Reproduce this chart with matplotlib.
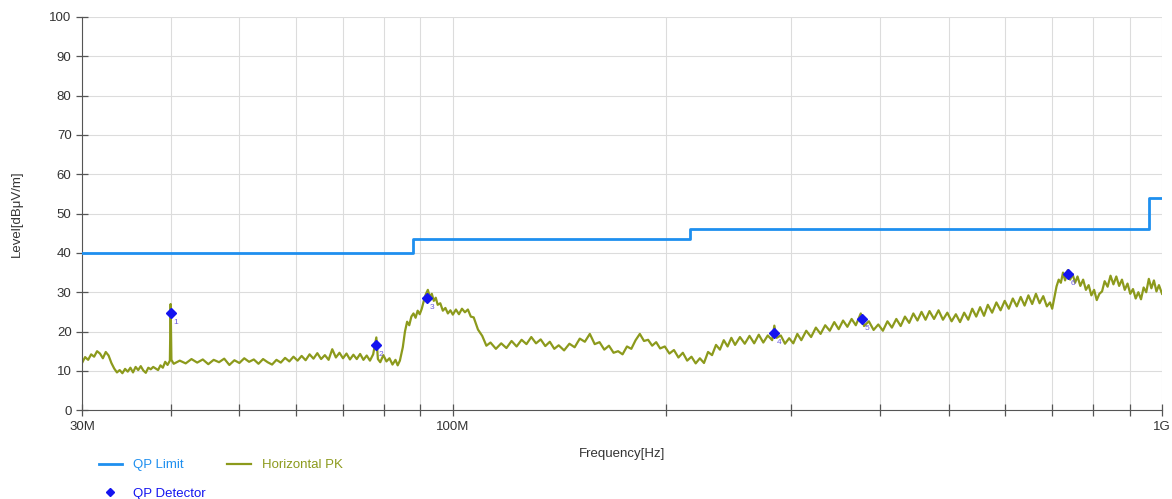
import matplotlib.pyplot as plt
from matplotlib.ticker import FixedLocator, NullFormatter, NullLocator
import numpy as np

plt.rcParams["font.family"] = ["Liberation Sans", "DejaVu Sans"]

# QP limit steps (MHz, dBuV/m)
limit_freq = [30, 88, 88, 216, 216, 960, 960, 1000]
limit_level = [40, 40, 43.5, 43.5, 46, 46, 54, 54]

# QP detector readings
qp_freq = [40.0, 77.9, 92.0, 284.0, 377.8, 737.7]
qp_level = [24.7, 16.5, 28.5, 19.6, 23.2, 34.6]
qp_ids = ["1", "2", "3", "4", "5", "6"]

# Horizontal PK trace (MHz, dBuV/m)
pk_freq = [
    30.0, 30.3, 30.6, 30.9, 31.2, 31.5, 31.8, 32.1, 32.4, 32.7, 33.0, 33.3, 33.6,
    33.9, 34.2, 34.5, 34.8, 35.1, 35.4, 35.7, 36.0, 36.3, 36.6, 36.9, 37.2, 37.5,
    37.8, 38.1, 38.4, 38.7, 39.0, 39.3, 39.6, 39.9, 40.0, 40.1,
    40.4, 41.2, 42.0, 42.8, 43.6, 44.4, 45.2, 46.0, 46.8, 47.6, 48.4, 49.2, 50.0,
    50.8, 51.6, 52.4, 53.2, 54.0, 54.8, 55.6, 56.4, 57.2, 58.0, 58.8, 59.6, 60.4,
    61.2, 62.0, 62.8, 63.6, 64.4, 65.2, 66.0, 66.8, 67.6, 68.4, 69.2, 70.0, 70.8,
    71.6, 72.4, 73.2, 74.0, 74.8, 75.6, 76.4, 77.2, 78.0, 78.4, 79.0, 79.8, 80.6,
    81.4, 82.2, 83.0, 83.6, 84.2,
    85.0, 85.6, 86.2, 86.8, 87.4, 88.0, 88.6, 89.2, 89.8, 90.4, 91.0, 91.6, 92.2,
    92.8, 93.4, 94.0, 94.6, 95.2, 96.0, 96.8, 97.6, 98.4, 99.2, 100, 101, 102,
    103, 104, 105, 106,
    107.0, 108.5, 110.0, 111.5, 113.0, 115.0, 117.0, 119.0, 121.0, 123.0, 125.0,
    127.0, 129.0, 131.0, 133.0, 135.0, 137.0, 139.0, 141.0, 143.5, 146.0, 148.5,
    151.0, 153.5, 156.0, 158.5, 161.0, 163.5, 166.0, 168.5, 171.0, 173.5, 176.0,
    178.5, 181.0, 183.5, 186.0, 188.5, 191.0, 193.5, 196.0, 199.0, 202.0, 205.0,
    208.0, 211.0, 214.0, 217.0, 220.0, 223.0, 226.0, 229.0, 232.0, 235.0, 238.0,
    241.0, 244.0, 247.0, 250.0, 254.0, 258.0, 262.0, 266.0, 270.0, 274.0, 278.0,
    282.0, 284.0, 286.0, 290.0, 294.0, 298.0, 302.0, 306.0, 310.0, 315.0, 320.0,
    325.0, 330.0, 335.0, 340.0, 345.0, 350.0, 355.0, 360.0, 365.0, 370.0, 376.0,
    380.0, 386.0, 392.0, 398.0, 404.0, 410.0, 416.0, 422.0, 428.0, 434.0, 440.0,
    446.0, 452.0, 458.0, 464.0, 470.0, 477.0, 484.0, 491.0, 498.0, 505.0, 512.0,
    519.0, 526.0, 533.0, 540.0, 547.0, 554.0, 561.0, 568.0, 576.0, 584.0, 592.0,
    600.0, 608.0, 616.0, 624.0, 632.0, 640.0, 648.0, 656.0, 664.0, 672.0, 680.0,
    688.0, 695.0, 700.0, 705.0, 710.0, 715.0, 720.0, 725.0, 730.0, 736.0, 742.0,
    748.0, 754.0, 760.0, 767.0, 774.0, 781.0, 788.0, 795.0, 802.0, 809.0, 816.0,
    823.0, 830.0, 838.0, 846.0, 854.0, 862.0, 870.0, 878.0, 886.0, 894.0, 902.0,
    910.0, 918.0, 926.0, 934.0, 942.0, 950.0, 958.0, 966.0, 974.0, 982.0, 990.0,
    1000.0,
]
pk_level = [
    12.0, 13.5, 12.8, 14.2, 13.6, 15.0, 14.4, 13.2, 14.8, 13.9, 12.0, 10.6, 9.6,
    10.2, 9.4, 10.5, 9.8, 10.8, 9.6, 11.0, 10.2, 11.2, 10.1, 9.5, 10.8, 10.4,
    11.0, 10.6, 10.2, 11.4, 10.8, 12.3, 11.5, 12.6, 27.0, 12.8,
    11.8, 12.6, 11.9, 13.0, 12.1, 12.9, 11.7, 12.8, 12.2, 13.1, 11.5, 12.7, 12.0,
    13.2, 12.3, 12.9, 11.8, 13.0, 12.2, 11.6, 12.8, 12.1, 13.3, 12.4, 13.6, 12.6,
    13.8, 12.7, 14.2, 13.1, 14.5, 13.0, 14.0, 12.8, 15.5, 13.4, 14.6, 13.2, 14.4,
    12.9, 14.1, 13.0, 14.3, 12.8, 13.9, 12.6, 14.2, 18.5, 13.0, 12.2, 14.0, 12.4,
    13.2, 11.6, 12.8, 11.4, 12.6,
    16.0, 20.0, 22.5, 21.6, 23.8, 24.6, 23.5, 25.3, 24.4, 25.8, 27.8, 29.5, 30.6,
    28.8, 29.6, 27.8, 28.6, 26.8, 27.2, 25.3, 26.0, 24.6, 25.4, 24.3, 25.6, 24.4,
    25.8, 24.9, 25.6, 23.8,
    23.6, 20.5, 18.9, 16.4, 17.2, 15.6, 17.0, 15.8, 17.6, 16.2, 17.9,
    16.8, 18.6, 17.0, 18.0, 16.3, 17.4, 15.6, 16.5, 15.2, 16.9, 16.0,
    18.2, 17.4, 19.4, 16.8, 17.3, 15.4, 16.4, 14.6, 15.0, 14.2, 16.2,
    15.6, 17.8, 19.4, 17.6, 17.9, 16.4, 17.3, 15.7, 16.2, 14.4, 15.3,
    13.4, 14.6, 12.6, 13.6, 11.9, 13.2, 12.0, 14.8, 14.0, 16.6, 15.4,
    17.8, 16.2, 18.4, 16.6, 18.6, 16.9, 18.9, 17.0, 19.2, 17.2, 19.0,
    17.8, 21.5, 18.4, 19.0, 16.9, 18.3, 17.0, 19.4, 17.8, 20.2, 18.6,
    21.0, 19.4, 21.6, 20.2, 22.4, 20.6, 22.8, 21.2, 23.2, 21.6, 24.6,
    21.4, 22.6, 20.4, 21.8, 20.2, 22.6, 21.0, 23.2, 21.4, 23.8, 22.2,
    24.6, 22.8, 25.0, 23.0, 25.2, 23.2, 25.4, 23.0, 24.8, 22.6, 24.4,
    22.4, 24.8, 23.0, 25.8, 23.8, 26.2, 24.0, 26.8, 24.8, 27.4, 25.4,
    27.8, 25.8, 28.4, 26.4, 28.8, 26.6, 29.2, 27.0, 29.6, 27.2, 29.0,
    26.4, 27.4, 25.8, 28.6, 31.5, 33.2, 32.4, 35.0, 33.0, 35.6, 33.2,
    34.6, 32.4, 34.0, 31.6, 33.2, 30.6, 31.8, 29.2, 30.6, 28.0, 29.6,
    30.2, 32.8, 31.4, 34.2, 32.0, 34.0, 31.6, 33.2, 30.6, 32.2, 29.6,
    30.8, 28.4, 30.0, 28.2, 31.2, 30.0, 33.4, 31.0, 33.0, 30.2, 31.8,
    29.6,
]

x_labels = {30: "30M", 100: "100M", 1000: "1G"}

limit_color = "#1e8fef"
pk_color = "#8c9a1c"
qp_color = "#1414f0"

fig = plt.figure(figsize=(11.72, 4.99), dpi=100)
ax = fig.add_axes([0.070, 0.178, 0.9215, 0.788])

ax.plot(limit_freq, limit_level, color=limit_color, linewidth=2.0, label="QP Limit", zorder=3)
ax.plot(pk_freq, pk_level, color=pk_color, linewidth=1.6, label="Horizontal PK", zorder=2)
ax.plot(qp_freq, qp_level, linestyle="none", marker="D", markersize=5,
        color=qp_color, label="QP Detector", zorder=4)
for f, v, n in zip(qp_freq, qp_level, qp_ids):
    ax.annotate(n, (f, v), xytext=(2, -8), textcoords="offset points",
                fontsize=6, color="#6a5ae0")

ax.set_xscale("log")
ax.set_xlim(30, 1000)
ax.set_ylim(0, 100)

ticks = [30, 40, 50, 60, 70, 80, 90, 100, 200, 300, 400, 500, 600, 700, 800, 900, 1000]
ax.xaxis.set_major_locator(FixedLocator(ticks))
ax.xaxis.set_minor_locator(NullLocator())
ax.xaxis.set_minor_formatter(NullFormatter())
ax.set_xticklabels([x_labels.get(t, "") for t in ticks])
ax.set_yticks(range(0, 101, 10))

ax.grid(True, color="#dcdcdc", linewidth=0.8)
ax.set_axisbelow(True)
for side in ["top", "right"]:
    ax.spines[side].set_visible(False)
for side in ["left", "bottom"]:
    ax.spines[side].set_color("#555555")
ax.tick_params(direction="inout", length=8, width=0.9, color="#555555",
               labelsize=9.5, labelcolor="#333333")

ax.set_xlabel("Frequency[Hz]", fontsize=9.5, color="#333333", labelpad=11)
ax.set_ylabel("Level[dBμV/m]", fontsize=9.5, color="#333333", labelpad=19)

h, l = ax.get_legend_handles_labels()
order = [0, 2, 1]
leg = fig.legend([h[i] for i in order], [l[i] for i in order], loc="lower left",
                 bbox_to_anchor=(0.074, -0.026), ncol=2, frameon=False,
                 fontsize=9.5, handlelength=1.8, columnspacing=1.65,
                 labelspacing=1.25, markerscale=0.8)
for txt, c in zip(leg.get_texts(), [limit_color, qp_color, pk_color]):
    txt.set_color(c)

fig.savefig("out.png", dpi=100)
